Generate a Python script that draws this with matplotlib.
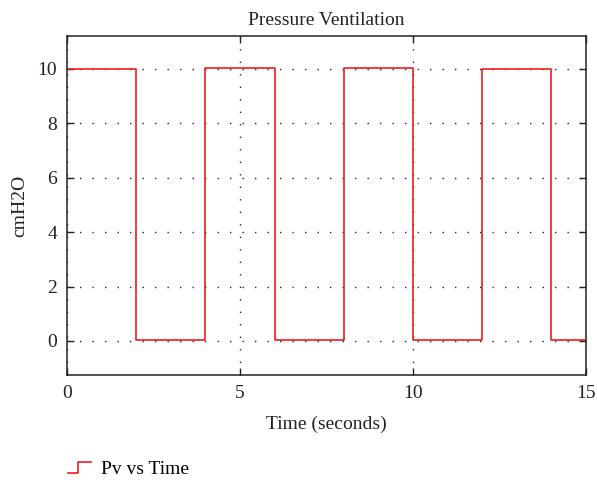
import matplotlib
matplotlib.use("Agg")
import matplotlib.pyplot as plt
from matplotlib.legend_handler import HandlerLine2D
from matplotlib.lines import Line2D

# Pressure waveform (cmH2O) against time (s), piecewise constant
t_edges = [0, 2, 4, 6, 8, 10, 12, 14, 15]
pressure = [10, 0.05, 10.02, 0.02, 10.02, 0.04, 10.0, 0.02, 0.02]
x_ticks = [0, 5, 10, 15]
y_ticks = [0, 2, 4, 6, 8, 10]


class StepHandler(HandlerLine2D):
    # legend icon drawn as a small rising step
    def create_artists(self, legend, orig_handle, xdescent, ydescent,
                       width, height, fontsize, trans):
        x0, x1 = -xdescent, -xdescent + width
        xm = x0 + 0.45 * width
        y0, y1 = -ydescent + 0.1 * height, -ydescent + 0.85 * height
        line = Line2D([x0, xm, xm, x1], [y0, y0, y1, y1],
                      color=orig_handle.get_color(), lw=orig_handle.get_linewidth())
        line.set_transform(trans)
        return [line]


plt.rcParams["font.family"] = "Liberation Serif"
plt.rcParams["font.size"] = 14

fig = plt.figure(figsize=(5.97, 4.82), dpi=100)
ax = fig.add_axes([67 / 597, 1 - 375 / 482, 519 / 597, 339 / 482])

line, = ax.step(t_edges, pressure, where="post", color="#ee1c1c", lw=1.2,
                label="Pv vs Time")

ax.set_xlim(0, 15)
ax.set_ylim(-1.25, 11.2)
ax.set_xticks(x_ticks)
ax.set_yticks(y_ticks)
ax.tick_params(direction="in", top=True, right=True, length=5, width=1,
               labelsize=14, colors="#222222", pad=7)
ax.grid(True, linestyle=(0, (1, 8)), color="#222222", lw=1.0)
for s in ax.spines.values():
    s.set_linewidth(1.1)
    s.set_color("#222222")

ax.set_title("Pressure Ventilation", fontsize=14, pad=8, color="#222222")
ax.set_xlabel("Time (seconds)", fontsize=14, labelpad=10, color="#222222")
ax.set_ylabel("cmH2O", fontsize=14, labelpad=7, color="#222222")

fig.legend(handles=[line], loc="lower left", bbox_to_anchor=(50 / 597, -0.028),
           frameon=False, fontsize=14, handlelength=1.2, handletextpad=0.5,
           handler_map={Line2D: StepHandler()})

fig.savefig("out.png", dpi=100)
